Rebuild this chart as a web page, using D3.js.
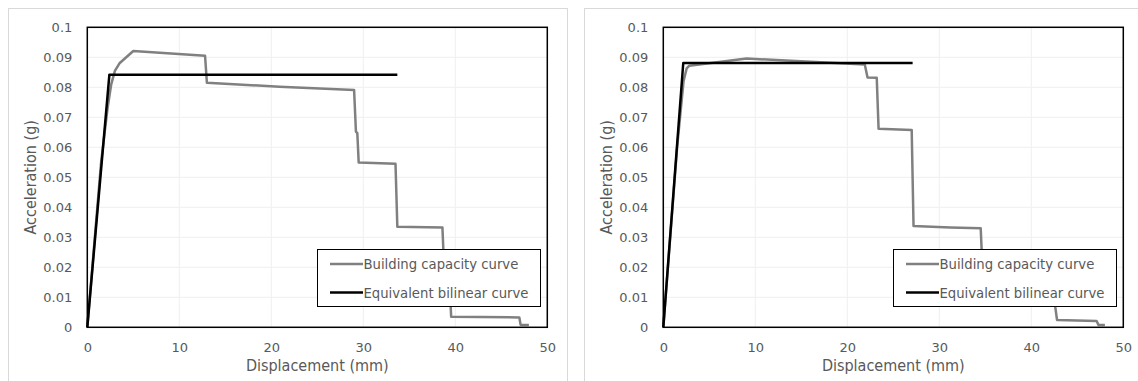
<!DOCTYPE html>
<html>
<head>
<meta charset="utf-8">
<script src="https://cdn.jsdelivr.net/npm/d3@7"></script>
<style>
  html, body { margin: 0; padding: 0; background: #fff; }
  svg text { fill: #595959; }
  .lbl { font-family: "DejaVu Sans Condensed", "DejaVu Sans", sans-serif; font-stretch: condensed; }
</style>
</head>
<body>
<svg id="chart" width="1138" height="381"></svg>
<script>
// axis ticks
const xTicks = [0, 10, 20, 30, 40, 50];
const yTicks = [0, 0.01, 0.02, 0.03, 0.04, 0.05, 0.06, 0.07, 0.08, 0.09, 0.1];
const seriesNames = ['Building capacity curve', 'Equivalent bilinear curve'];

// left chart: building capacity curve (mm, g)
const capLeftX = [0, 1.5, 2.2, 2.6, 3.0, 3.5, 5.0, 12.8, 13.0, 20.9, 29.0, 29.2, 29.35, 29.5, 33.5, 33.7, 38.6, 38.7, 39.5, 39.55, 46.96, 47.1, 48.0];
const capLeftY = [0, 0.055, 0.073, 0.081, 0.0855, 0.088, 0.0921, 0.0905, 0.0815, 0.0802, 0.0791, 0.0652, 0.0647, 0.0549, 0.0545, 0.0335, 0.0333, 0.026, 0.0068, 0.0035, 0.0033, 0.0008, 0.0008];
// left chart: equivalent bilinear curve
const bilLeftX = [0, 2.4, 33.7];
const bilLeftY = [0, 0.0842, 0.0842];

// right chart: building capacity curve
const capRightX = [0, 1.5, 2.2, 2.54, 2.83, 9.06, 21.9, 22.2, 23.2, 23.4, 27.0, 27.2, 31.2, 34.5, 34.6, 42.6, 42.8, 47.1, 47.3, 48.0];
const capRightY = [0, 0.06, 0.082, 0.0863, 0.0872, 0.0896, 0.0876, 0.0833, 0.0832, 0.0662, 0.0658, 0.0338, 0.0333, 0.0330, 0.026, 0.0069, 0.0024, 0.0021, 0.0008, 0.0008];
// right chart: equivalent bilinear curve
const bilRightX = [0, 2.17, 27.1];
const bilRightY = [0, 0.0881, 0.0881];

const svg = d3.select('#chart');

function drawPanel(ox, capX, capY, bilX, bilY) {
  const g = svg.append('g').attr('transform', `translate(${ox},0)`);

  // panel frame
  g.append('rect')
    .attr('x', 8.5).attr('y', 8.5)
    .attr('width', 559).attr('height', 400)
    .attr('fill', '#fff').attr('stroke', '#d9d9d9');

  const x = d3.scaleLinear().domain([0, 50]).range([87.3, 547.3]);
  const y = d3.scaleLinear().domain([0, 0.1]).range([327.3, 27.3]);

  // gridlines
  g.append('g').selectAll('line.h')
    .data(yTicks)
    .enter().append('line')
    .attr('x1', x(0)).attr('x2', x(50))
    .attr('y1', d => y(d)).attr('y2', d => y(d))
    .attr('stroke', '#efefef').attr('stroke-width', 1);
  g.append('g').selectAll('line.v')
    .data(xTicks)
    .enter().append('line')
    .attr('x1', d => x(d)).attr('x2', d => x(d))
    .attr('y1', y(0)).attr('y2', y(0.1))
    .attr('stroke', '#efefef').attr('stroke-width', 1);

  // tick labels via d3 axes
  const yAxis = g.append('g')
    .attr('transform', `translate(${x(0)},0)`)
    .call(d3.axisLeft(y).tickValues(yTicks).tickSize(0).tickPadding(15).tickFormat(d => String(+d.toFixed(2))))
    .attr('font-size', 13)
    .attr('font-family', 'DejaVu Sans, sans-serif');
  yAxis.select('.domain').remove();

  const xAxis = g.append('g')
    .attr('transform', `translate(0,${y(0)})`)
    .call(d3.axisBottom(x).tickValues(xTicks).tickSize(0).tickPadding(15))
    .attr('font-size', 13)
    .attr('font-family', 'DejaVu Sans, sans-serif');
  xAxis.select('.domain').remove();

  // axis titles
  g.append('text')
    .attr('class', 'lbl')
    .attr('x', (x(0) + x(50)) / 2).attr('y', 371)
    .attr('text-anchor', 'middle')
    .attr('font-size', 16)
    .text('Displacement (mm)');
  g.append('text')
    .attr('class', 'lbl')
    .attr('transform', `translate(36,${(y(0) + y(0.1)) / 2}) rotate(-90)`)
    .attr('text-anchor', 'middle')
    .attr('font-size', 16)
    .text('Acceleration (g)');

  const line = d3.line().x(d => x(d[0])).y(d => y(d[1]));

  // building capacity curve
  g.append('path')
    .datum(d3.zip(capX, capY))
    .attr('d', line)
    .attr('fill', 'none')
    .attr('stroke', '#808080')
    .attr('stroke-width', 2.5)
    .attr('stroke-linejoin', 'round');

  // bilinear curve
  g.append('path')
    .datum(d3.zip(bilX, bilY))
    .attr('d', line)
    .attr('fill', 'none')
    .attr('stroke', '#000')
    .attr('stroke-width', 2.5)
    .attr('stroke-linejoin', 'round');

  // plot area border
  g.append('rect')
    .attr('x', x(0)).attr('y', y(0.1))
    .attr('width', x(50) - x(0)).attr('height', y(0) - y(0.1))
    .attr('fill', 'none')
    .attr('stroke', '#000')
    .attr('stroke-width', 1.5);

  // legend
  const lg = g.append('g').attr('transform', 'translate(317.5,249.5)');
  lg.append('rect')
    .attr('width', 223).attr('height', 57)
    .attr('fill', '#fff').attr('stroke', '#000').attr('stroke-width', 1);
  const colors = ['#808080', '#000'];
  seriesNames.forEach((name, i) => {
    const cy = 14.5 + i * 28.5;
    lg.append('line')
      .attr('x1', 12.5).attr('x2', 45.5)
      .attr('y1', cy).attr('y2', cy)
      .attr('stroke', colors[i]).attr('stroke-width', 2.5);
    lg.append('text')
      .attr('class', 'lbl')
      .attr('x', 46).attr('y', cy)
      .attr('dy', '0.35em')
      .attr('font-size', 14.7)
      .text(name);
  });
}

drawPanel(0, capLeftX, capLeftY, bilLeftX, bilLeftY);
drawPanel(576, capRightX, capRightY, bilRightX, bilRightY);
</script>
</body>
</html>
